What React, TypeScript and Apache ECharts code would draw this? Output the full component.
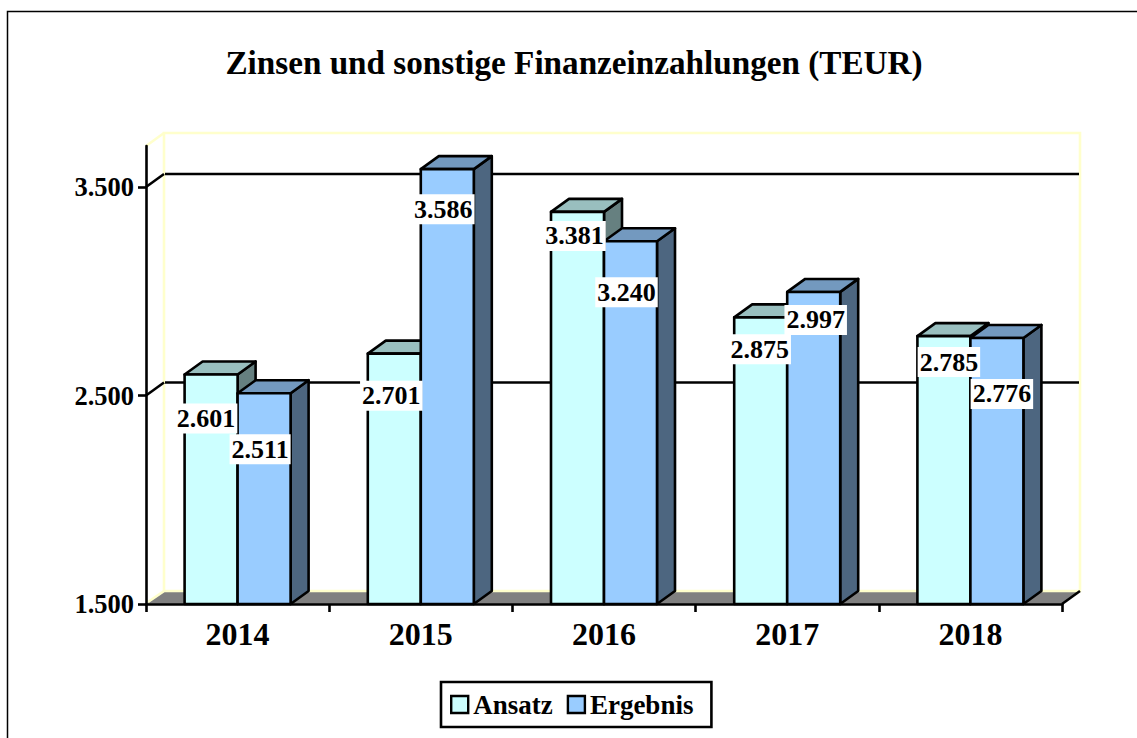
import React, { useEffect, useRef } from "react";
import * as echarts from "echarts";

const categories = ["2014", "2015", "2016", "2017", "2018"];
const ansatz = [2601, 2701, 3381, 2875, 2785];
const ergebnis = [2511, 3586, 3240, 2997, 2776];
const yTicks = [1500, 2500, 3500];
const gridValues = [2500, 3500];

const ansatzLabelShift = [[-5, 44], [-3, 42], [-3, 24], [-1, 32], [5, 26]];
const ergebnisLabelShift = [[-4, 56], [-4, 40], [-4, 51], [2, 28], [5, 56]];

const FONT = '"Liberation Serif"';
const DEPTH_X = 18;
const DEPTH_Y = -13;
const BAR_W = 53;
const LINE = 2.6;

const fmt = (v: number) => {
  const s = String(Math.round(v));
  return s.slice(0, -3) + "." + s.slice(-3);
};

function wallRender(params: any, api: any) {
  const cs = params.coordSys;
  const x0 = cs.x, y0 = cs.y, w = cs.width, h = cs.height;
  const yv = api.coord([0, api.value(1)])[1];
  const children: any[] = [
    {
      type: "line",
      shape: { x1: x0, y1: yv, x2: x0 + DEPTH_X, y2: yv + DEPTH_Y },
      style: { stroke: "#000", lineWidth: LINE },
    },
    {
      type: "line",
      shape: { x1: x0 + DEPTH_X + 1, y1: yv + DEPTH_Y, x2: x0 + w + DEPTH_X - 1, y2: yv + DEPTH_Y },
      style: { stroke: "#000", lineWidth: LINE },
    },
  ];
  if (params.dataIndex === 0) {
    const b = y0 + h;
    children.unshift(
      {
        type: "polygon",
        shape: { points: [[x0, b], [x0 + DEPTH_X, b + DEPTH_Y], [x0 + w + DEPTH_X, b + DEPTH_Y], [x0 + w, b]] },
        style: { fill: "#808080" },
      },
      {
        type: "polyline",
        shape: {
          points: [
            [x0 + 2, b - 2], [x0 + DEPTH_X, b + DEPTH_Y], [x0 + DEPTH_X, y0 + DEPTH_Y],
            [x0 + w + DEPTH_X, y0 + DEPTH_Y], [x0 + w + DEPTH_X, b + DEPTH_Y], [x0 + DEPTH_X, b + DEPTH_Y],
          ],
        },
        style: { stroke: "#FFFFCC", lineWidth: 2.6, fill: "none" },
      },
      {
        type: "line",
        shape: { x1: x0, y1: y0, x2: x0 + DEPTH_X, y2: y0 + DEPTH_Y },
        style: { stroke: "#FFFFCC", lineWidth: 2.6 },
      },
      {
        type: "line",
        shape: { x1: x0 + w, y1: b, x2: x0 + w + DEPTH_X, y2: b + DEPTH_Y },
        style: { stroke: "#000", lineWidth: LINE },
      },
    );
  }
  return { type: "group", children };
}

function barRender(side: number, colors: string[], shifts: number[][]) {
  return (params: any, api: any) => {
    const i = api.value(0);
    const v = api.value(1);
    const top = api.coord([i, v]);
    const base = api.coord([i, 1500]);
    const l = top[0] + (side === 0 ? -BAR_W : 0);
    const r = l + BAR_W;
    const t = top[1];
    const b = base[1];
    const style = (fill: string) => ({ fill, stroke: "#000", lineWidth: LINE, lineJoin: "round" });
    const shift = shifts[params.dataIndex];
    return {
      type: "group",
      children: [
        {
          type: "polygon",
          shape: { points: [[r, t], [r + DEPTH_X, t + DEPTH_Y], [r + DEPTH_X, b + DEPTH_Y], [r, b]] },
          style: style(colors[2]),
        },
        {
          type: "polygon",
          shape: { points: [[l, t], [l + DEPTH_X, t + DEPTH_Y], [r + DEPTH_X, t + DEPTH_Y], [r, t]] },
          style: style(colors[1]),
        },
        {
          type: "rect",
          shape: { x: l, y: t, width: BAR_W, height: b - t },
          style: style(colors[0]),
        },
        {
          type: "text",
          x: (l + r) / 2 + shift[0],
          y: t + shift[1],
          z2: 100,
          style: {
            text: fmt(v),
            fill: "#000",
            font: `bold 26px ${FONT}`,
            align: "center",
            verticalAlign: "middle",
            backgroundColor: "#fff",
            padding: [2, 2, 2, 2],
          },
        },
      ],
    };
  };
}

export default function App() {
  const ref = useRef<HTMLDivElement>(null);
  useEffect(() => {
    const chart = echarts.init(ref.current!, undefined, { renderer: "svg" });
    chart.setOption({
      animation: false,
      backgroundColor: "#fff",
      title: {
        text: "Zinsen und sonstige Finanzeinzahlungen (TEUR)",
        left: 574,
        top: 46,
        textAlign: "center",
        textStyle: { fontFamily: FONT, fontWeight: "bold", fontSize: 33.2, color: "#000" },
        padding: 0,
      },
      graphic: [
        {
          type: "rect",
          shape: { x: 7.5, y: 11.5, width: 1300, height: 900 },
          style: { fill: "none", stroke: "#000", lineWidth: 1.5 },
          silent: true,
        },
      ],
      legend: {
        left: 441,
        top: 682,
        orient: "horizontal",
        selectedMode: false,
        backgroundColor: "#fff",
        borderColor: "#000",
        borderWidth: 2.6,
        padding: [9, 18, 9, 9],
        itemWidth: 17,
        itemHeight: 17,
        itemGap: 14,
        textStyle: { fontFamily: FONT, fontWeight: "bold", fontSize: 27, color: "#000" },
        data: [
          { name: "Ansatz", icon: "rect", itemStyle: { color: "#CCFFFF", borderColor: "#000", borderWidth: 2.4 } },
          { name: "Ergebnis", icon: "rect", itemStyle: { color: "#99CCFF", borderColor: "#000", borderWidth: 2.4 } },
        ],
      },
      grid: { left: 146, top: 146, width: 916, height: 458 },
      xAxis: {
        type: "category",
        data: categories,
        z: 5,
        axisLine: { lineStyle: { color: "#000", width: LINE } },
        axisTick: { show: true, alignWithLabel: false, length: 8, lineStyle: { color: "#000", width: LINE } },
        axisLabel: { color: "#000", fontFamily: FONT, fontWeight: "bold", fontSize: 32, margin: 14 },
      },
      yAxis: {
        type: "value",
        min: 1500,
        max: 3697,
        z: 5,
        splitLine: { show: false },
        axisLine: { show: true, onZero: false, lineStyle: { color: "#000", width: LINE } },
        axisTick: { show: true, length: 8, customValues: yTicks, lineStyle: { color: "#000", width: LINE } },
        axisLabel: {
          color: "#000",
          fontFamily: FONT,
          fontWeight: "bold",
          fontSize: 26.5,
          margin: 12,
          customValues: yTicks,
          formatter: (v: number) => fmt(v),
        },
      },
      series: [
        {
          type: "custom",
          name: "walls",
          z: 1,
          silent: true,
          renderItem: wallRender,
          data: gridValues.map((v) => [0, v]),
        },
        {
          type: "custom",
          name: "Ansatz",
          z: 2,
          silent: true,
          itemStyle: { color: "#CCFFFF" },
          renderItem: barRender(0, ["#CCFFFF", "#99BFBF", "#668080"], ansatzLabelShift),
          data: ansatz.map((v, i) => [i, v]),
        },
        {
          type: "custom",
          name: "Ergebnis",
          z: 2,
          silent: true,
          itemStyle: { color: "#99CCFF" },
          renderItem: barRender(1, ["#99CCFF", "#7399BF", "#4D6680"], ergebnisLabelShift),
          data: ergebnis.map((v, i) => [i, v]),
        },
      ],
    });
    return () => chart.dispose();
  }, []);
  return <div ref={ref} style={{ position: "absolute", left: 0, top: 0, width: 1137, height: 738 }} />;
}
